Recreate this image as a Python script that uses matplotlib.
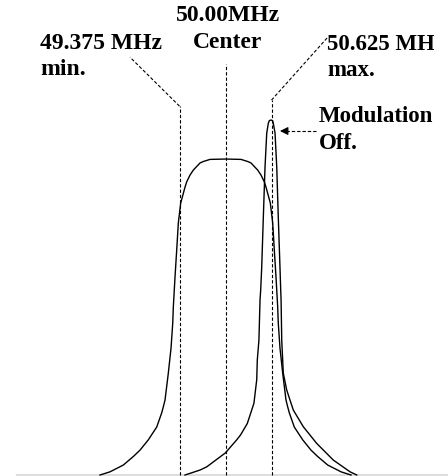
import matplotlib
matplotlib.use("Agg")
import matplotlib.pyplot as plt
from matplotlib.transforms import Bbox, TransformedBbox

# frequency markers (MHz)
f_min = 49.375
f_center = 50.00
f_max = 50.625

# modulated spectrum (flat-topped), freq in MHz, relative amplitude
mod_freq = [48.295, 48.431, 48.611, 48.747, 48.838, 48.951, 49.065, 49.133, 49.155,
            49.178, 49.223, 49.260, 49.283, 49.291, 49.314, 49.337, 49.359, 49.391,
            49.450, 49.473, 49.518, 49.563, 49.654, 49.698, 49.789, 50.000,
            50.211, 50.302, 50.346, 50.437, 50.482, 50.527, 50.550, 50.609, 50.641,
            50.663, 50.686, 50.709, 50.717, 50.740, 50.777, 50.822, 50.845, 50.867,
            50.935, 51.049, 51.162, 51.253, 51.389, 51.569, 51.705]
mod_amp = [0.000, 0.009, 0.028, 0.052, 0.070, 0.099, 0.135, 0.175, 0.192,
           0.211, 0.287, 0.358, 0.428, 0.473, 0.558, 0.634, 0.710, 0.766,
           0.811, 0.826, 0.845, 0.859, 0.879, 0.883, 0.889, 0.890,
           0.889, 0.883, 0.879, 0.859, 0.845, 0.826, 0.811, 0.766, 0.710,
           0.634, 0.558, 0.473, 0.428, 0.358, 0.287, 0.211, 0.192, 0.175,
           0.135, 0.099, 0.070, 0.052, 0.028, 0.009, 0.000]

# modulation off (single carrier peak)
off_freq = [49.450, 49.654, 49.745, 49.997, 50.152, 50.205, 50.296, 50.386, 50.424,
            50.432, 50.454, 50.469, 50.478, 50.492, 50.514, 50.537, 50.560, 50.582,
            50.595, 50.618, 50.641, 50.649, 50.673, 50.696, 50.717, 50.740, 50.750,
            50.755, 50.764, 50.785, 50.832, 50.921, 51.057, 51.239, 51.465, 51.692,
            51.783]
off_amp = [0.000, 0.014, 0.023, 0.062, 0.099, 0.113, 0.145, 0.202, 0.268,
           0.324, 0.380, 0.493, 0.521, 0.586, 0.727, 0.868, 0.963, 0.991,
           0.998, 1.000, 0.998, 0.991, 0.963, 0.868, 0.727, 0.586, 0.521,
           0.493, 0.380, 0.287, 0.239, 0.183, 0.136, 0.089, 0.042, 0.009,
           0.000]

W, H = 448, 476
fig = plt.figure(figsize=(W / 100, H / 100), dpi=100)
ax = fig.add_axes([0, 0, 1, 1])
ax.set_xlim(46.936, 53.023)
ax.set_ylim(-0.0028, 1.338)
ax.axis("off")


def fpos(x, y):
    # pixel position -> figure fraction
    return x / W, 1 - y / H


font = dict(family="Liberation Serif", weight="bold", fontsize=17)
font_r = dict(font, fontsize=16.5)
dash = (0, (3, 1.8))

# faint baseline
ax.plot([47.167, 53.1], [0, 0], color="#dddddd", lw=1.5, zorder=0)

ax.plot(mod_freq, mod_amp, color="black", lw=1.0, solid_joinstyle="round")
ax.plot(off_freq, off_amp, color="black", lw=1.0, solid_joinstyle="round")

# marker lines and leaders
ax.plot([f_min, f_min], [0, 1.039], color="black", lw=0.8, ls=dash)
ax.plot([f_min, 48.702], [1.039, 1.177], color="black", lw=0.8, ls=dash)
ax.plot([f_center, f_center], [0, 1.158], color="black", lw=0.8, ls=dash)
ax.plot([f_max, f_max], [0, 1.056], color="black", lw=0.8, ls=dash)
ax.plot([f_max, 51.393], [1.056, 1.234], color="black", lw=0.8, ls=dash)

# arrow to the peak
ax.plot([50.82, 51.257], [0.969, 0.969], color="black", lw=0.8, ls=dash)
ax.annotate("", xy=(50.740, 0.969), xytext=(50.84, 0.969),
            arrowprops=dict(arrowstyle="-|>", color="black", lw=0.8,
                            mutation_scale=12, shrinkA=0, shrinkB=0))

fig.text(*fpos(228, 21), "50.00MHz", ha="center", va="baseline", **font)
fig.text(*fpos(228, 47.5), "Center", ha="center", va="baseline", **font)
fig.text(*fpos(40, 49), "49.375 MHz", ha="left", va="baseline", **font)
fig.text(*fpos(40, 75), "min.", ha="left", va="baseline", **font)

# right-hand labels are cut off by the text box edge
clip = TransformedBbox(Bbox([[0, 0], [434 / W, 1]]), fig.transFigure)
right_labels = [
    (327, 50, "50.625 MHz"),
    (327, 76, "max."),
    (319, 121.5, "Modulation"),
    (319, 149, "Off."),
]
for x, y, s in right_labels:
    t = fig.text(*fpos(x, y), s, ha="left", va="baseline", **font_r)
    t.set_clip_box(clip)
    t.set_clip_on(True)

fig.savefig("out.png", dpi=100)
